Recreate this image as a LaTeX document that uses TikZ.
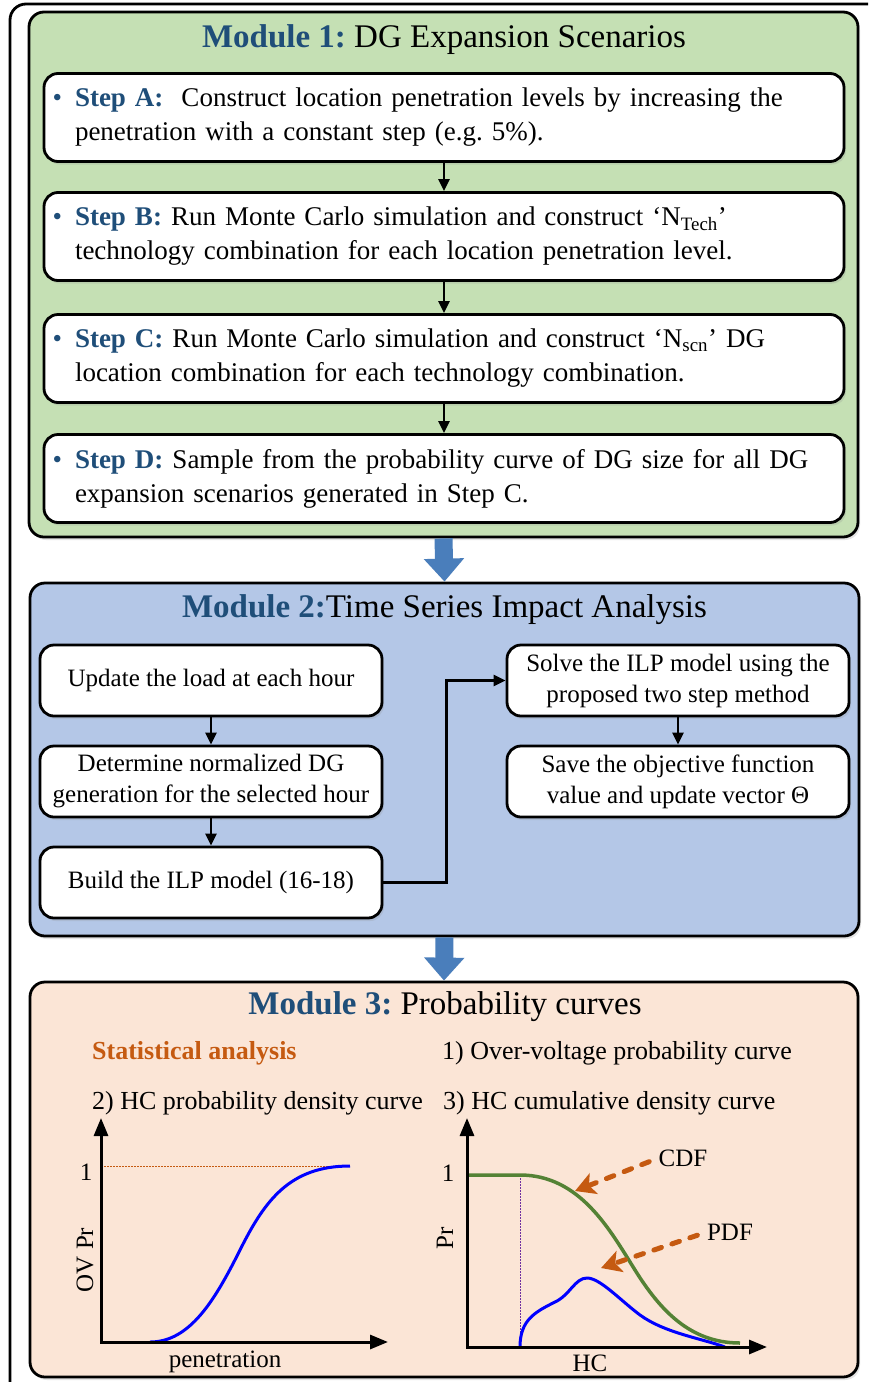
\documentclass[tikz,border=0pt]{standalone}
\usepackage{fontspec}
\setmainfont{Liberation Serif}
\usetikzlibrary{arrows.meta,shadows}
\frenchspacing
\definecolor{tblue}{HTML}{1F4E79}
\definecolor{gfill}{HTML}{C5E0B4}
\definecolor{bfill}{HTML}{B4C7E7}
\definecolor{pfill}{HTML}{FBE5D6}
\definecolor{barrow}{HTML}{4A7EBB}
\definecolor{orng}{HTML}{C55A11}
\definecolor{cdfgreen}{HTML}{548235}
\definecolor{purp}{HTML}{7030A0}
\newcommand\mystep[1]{\llap{\textcolor{tblue}{\textbullet}\hspace{13pt}}\textcolor{tblue}{\textbf{#1}}}
\tikzset{
  shad/.style={drop shadow={shadow xshift=2pt,shadow yshift=-3pt,opacity=0.22,fill=black!45}},
  module/.style={draw=black,line width=2.8pt,rounded corners=15pt,inner sep=0pt,shad},
  title/.style={inner sep=0pt,font=\fontsize{33}{38}\selectfont},
  stepbox/.style={draw=black,fill=white,line width=2.8pt,rounded corners=14pt,
    text width=738pt,inner xsep=31pt,minimum height=88pt,align=left,
    font=\fontsize{27}{34}\selectfont,shad},
  mbox/.style={draw=black,fill=white,line width=2.8pt,rounded corners=14pt,
    minimum width=342pt,minimum height=71pt,inner sep=2pt,align=center,
    font=\fontsize{25}{31}\selectfont,shad},
  conn/.style={draw=black,line width=2.3pt,-{Triangle[length=12pt,width=11pt]}},
  blockarrow/.style={draw=barrow,line width=18pt,-{Triangle[length=23pt,width=39pt]}},
  txt/.style={inner sep=0pt,font=\fontsize{26}{30}\selectfont},
  lbl/.style={inner sep=0pt,font=\fontsize{25}{30}\selectfont},
  axisline/.style={draw=black,line width=3pt,
    {Triangle[length=18pt,width=14pt]}-{Triangle[length=18pt,width=14pt]}},
  pointer/.style={draw=orng,line width=5pt,line cap=round,dash pattern=on 8pt off 11pt,
    -{Stealth[length=20pt,width=22pt,inset=5pt]}},
}
\begin{document}
\begin{tikzpicture}[x=1pt,y=-1pt]
\useasboundingbox (0,0) rectangle (868,1382);
\fill[white] (0,0) rectangle (868,1382);
\clip (0,0) rectangle (868,1382);
% outer frame
\draw[line width=2.8pt,rounded corners=16pt] (10,4) rectangle (890,1400);

% ---------------- Module 1
\node[module,fill=gfill,minimum width=829pt,minimum height=525pt] (m1) at (443.5,274.5) {};
\node[title] (t1) at (444,40) {\textcolor{tblue}{\textbf{Module 1:}} DG Expansion Scenarios};
\node[stepbox] (sA) at (444,117.5) {\mbox{\mystep{Step A:}\ \ Construct location penetration levels by increasing the}\\\mbox{penetration with a constant step (e.g. 5\%).}};
\node[stepbox] (sB) at (444,236.5) {\mbox{\mystep{Step B:} Run Monte Carlo simulation and construct ‘N\textsubscript{Tech}’}\\\mbox{technology combination for each location penetration level.}};
\node[stepbox] (sC) at (444,358.5) {\mbox{\mystep{Step C:} Run Monte Carlo simulation and construct ‘N\textsubscript{scn}’ DG}\\\mbox{location combination for each technology combination.}};
\node[stepbox] (sD) at (444,478.5) {\mbox{\mystep{Step D:} Sample from the probability curve of DG size for all DG}\\\mbox{expansion scenarios generated in Step C.}};
\draw[conn] (sA) -- (sB);
\draw[conn] (sB) -- (sC);
\draw[conn] (sC) -- (sD);

% ---------------- Module 2
\node[module,fill=bfill,minimum width=829pt,minimum height=353pt] (m2) at (444.5,759.5) {};
\node[title] (t2) at (444.5,610) {\textcolor{tblue}{\textbf{Module 2:}}Time Series Impact Analysis};
\node[mbox] (L1) at (211,680.5) {Update the load at each hour};
\node[mbox] (L2) at (211,781.5) {Determine normalized DG\\generation for the selected hour};
\node[mbox] (L3) at (211,882.5) {Build the ILP model (16-18)};
\node[mbox] (R1) at (678,680.5) {Solve the ILP model using the\\proposed two step method};
\node[mbox] (R2) at (678,781.5) {Save the objective function\\value and update vector Θ};
\draw[conn] (L1) -- (L2);
\draw[conn] (L2) -- (L3);
\draw[conn] (R1) -- (R2);
\draw[conn] (L3.east) -- ++(63,0) |- (R1.west);

% ---------------- Module 3
\node[module,fill=pfill,minimum width=828pt,minimum height=395pt] (m3) at (444,1179.5) {};
\node[title] (t3) at (445,1007) {\textcolor{tblue}{\textbf{Module 3:}} Probability curves};

% block arrows
\draw[blockarrow] (m1.south) -- (m2.north);
\draw[blockarrow] (m2.south) -- (m3.north);

\node[txt,anchor=west,text=orng] (sa) at (92,1053) {\textbf{Statistical analysis}};
\node[txt,anchor=west] (c1) at (442,1053) {1) Over-voltage probability curve};
\node[txt,anchor=west] (c2) at (92,1103) {2) HC probability density curve};
\node[txt,anchor=west] (c3) at (443,1103) {3) HC cumulative density curve};

% left plot
\coordinate (o1) at (101,1342);
\coordinate (y1) at (101,1118);
\coordinate (x1) at (388,1342);
\draw[orng,line width=1pt,dash pattern=on 1.5pt off 1.5pt] (101,1166) -- (350,1166);
\draw[blue,line width=3pt] (150,1342) .. controls (190,1342) and (215,1300) .. (240,1250)
  .. controls (265,1200) and (290,1166) .. (350,1166);
\draw[axisline] (y1) -- (o1) -- (x1);
\node[lbl] (one1) at (86,1172) {1};
\node[lbl,rotate=90] (ovpr) at (85,1260) {OV Pr};
\node[lbl] (pen) at (225,1362) {penetration};

% right plot
\coordinate (o2) at (467,1347);
\coordinate (y2) at (467,1118);
\coordinate (x2) at (767,1347);
\draw[purp,line width=1pt,dash pattern=on 1.5pt off 1.5pt] (520,1175) -- (520,1347);
\draw[cdfgreen,line width=3.5pt] (467,1175) -- (520,1175)
  .. controls (580,1175) and (610,1230) .. (635,1270)
  .. controls (660,1310) and (690,1343) .. (740,1343);
\draw[blue,line width=3pt] (520,1347) .. controls (520,1320) and (535,1312) .. (555,1302)
  .. controls (570,1295) and (575,1278) .. (587,1278)
  .. controls (600,1278) and (620,1300) .. (640,1315)
  .. controls (665,1333) and (700,1338) .. (725,1347);
\draw[axisline] (y2) -- (o2) -- (x2);
\node[lbl] (one2) at (448,1173) {1};
\node[lbl,rotate=90] (pr) at (445,1238) {Pr};
\node[lbl] (hc) at (590,1363) {HC};
\node[lbl] (cdf) at (683,1158) {CDF};
\node[lbl] (pdf) at (730,1232) {PDF};
\coordinate (cdftip) at (575,1191);
\coordinate (pdftip) at (601,1268);
\draw[pointer,shorten <=10pt] (cdf.west) -- (cdftip);
\draw[pointer,shorten <=10pt] (pdf.west) -- (pdftip);
\end{tikzpicture}
\end{document}
